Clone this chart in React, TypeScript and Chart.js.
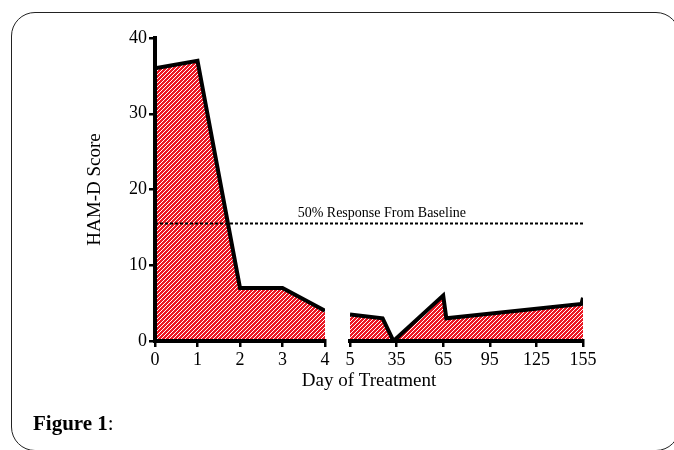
import React, { useEffect, useRef } from "react";
import { Chart, registerables } from "chart.js";

Chart.register(...registerables);

// ---- data ----
const EARLY_DAYS = [0, 1, 2, 3, 4];
const EARLY_SCORES = [36, 37, 7, 7, 4];
const LATE_DAYS = [5, 26, 33, 65, 67, 154, 155];
const LATE_SCORES = [3.5, 3.0, 0, 6, 3, 4.9, 5.7];
const EARLY_TICKS = [0, 1, 2, 3, 4];
const LATE_TICKS = [5, 35, 65, 95, 125, 155];
const Y_TICKS = [0, 10, 20, 30, 40];
const RESPONSE_LEVEL = 15.5;
const RESPONSE_LABEL = "50% Response From Baseline";
const RESPONSE_LABEL_AT = 0.53; // fraction along the whole day axis
const X_TITLE = "Day of Treatment";
const Y_TITLE = "HAM-D Score";
const CAPTION = "Figure 1";

const SERIF = "'Liberation Serif', 'Times New Roman', serif";
const FILL_RED = "rgb(236, 24, 36)";

function makeHatch(ctx: CanvasRenderingContext2D) {
  const t = document.createElement("canvas");
  t.width = 4;
  t.height = 4;
  const c = t.getContext("2d")!;
  c.fillStyle = FILL_RED;
  c.fillRect(0, 0, 4, 4);
  c.strokeStyle = "#ffffff";
  c.lineWidth = 1;
  c.beginPath();
  c.moveTo(0, 4);
  c.lineTo(4, 0);
  c.moveTo(-1, 1);
  c.lineTo(1, -1);
  c.moveTo(3, 5);
  c.lineTo(5, 3);
  c.stroke();
  return ctx.createPattern(t, "repeat")!;
}

const refLabelPlugin = {
  id: "refLabel",
  afterDatasetsDraw(chart: any) {
    const { ctx, scales } = chart;
    const x = scales.xfull.getPixelForValue(RESPONSE_LABEL_AT);
    const y = scales.y.getPixelForValue(RESPONSE_LEVEL) - 10;
    ctx.save();
    ctx.font = `14px ${SERIF}`;
    ctx.fillStyle = "#000";
    ctx.textAlign = "center";
    ctx.textBaseline = "middle";
    ctx.fillText(RESPONSE_LABEL, x, y);
    ctx.restore();
  },
};

const tickFont = { family: SERIF, size: 18 };
const titleFont = { family: SERIF, size: 19 };
const axisBorder = { display: true, color: "#000", width: 4, z: 1 };
const tickGrid = {
  display: true,
  drawOnChartArea: false,
  drawTicks: true,
  tickLength: 6,
  color: "#000",
  lineWidth: 2.5,
  tickColor: "#000",
  tickWidth: 2.5,
};

export default function App() {
  const ref = useRef<HTMLCanvasElement>(null);

  useEffect(() => {
    const canvas = ref.current!;
    const hatch = makeHatch(canvas.getContext("2d")!);
    const chart = new Chart(canvas, {
      type: "line",
      data: {
        datasets: [
          {
            data: EARLY_DAYS.map((d, i) => ({ x: d, y: EARLY_SCORES[i] })),
            xAxisID: "x1",
            yAxisID: "y",
            borderColor: "#000",
            borderWidth: 4,
            backgroundColor: hatch,
            fill: "origin",
            pointRadius: 0,
            tension: 0,
            borderJoinStyle: "miter",
            order: 1,
          },
          {
            data: LATE_DAYS.map((d, i) => ({ x: d, y: LATE_SCORES[i] })),
            xAxisID: "x2",
            yAxisID: "y",
            borderColor: "#000",
            borderWidth: 4,
            backgroundColor: hatch,
            fill: "origin",
            pointRadius: 0,
            tension: 0,
            borderJoinStyle: "miter",
            order: 1,
          },
          {
            data: [
              { x: 0, y: RESPONSE_LEVEL },
              { x: 1, y: RESPONSE_LEVEL },
            ],
            xAxisID: "xfull",
            yAxisID: "y",
            borderColor: "#000",
            borderWidth: 2,
            borderDash: [3, 2],
            fill: false,
            pointRadius: 0,
            order: -1,
          },
        ],
      } as any,
      options: {
        responsive: false,
        animation: false,
        layout: { padding: { left: 84, right: 91, top: 38, bottom: 58 } },
        plugins: {
          legend: { display: false },
          tooltip: { enabled: false },
          title: { display: false },
        },
        scales: {
          x1: {
            type: "linear",
            position: "bottom",
            stack: "days",
            stackWeight: 170,
            min: 0,
            max: 4,
            afterBuildTicks: (s: any) => {
              s.ticks = EARLY_TICKS.map((v) => ({ value: v }));
            },
            afterFit: (s: any) => {
              s.height = 30;
            },
            border: axisBorder,
            grid: tickGrid,
            ticks: { color: "#000", font: tickFont, padding: 2, maxRotation: 0, autoSkip: false },
          },
          xgap: {
            type: "linear",
            position: "bottom",
            stack: "days",
            stackWeight: 25,
            border: { display: false },
            grid: { display: false },
            ticks: { display: false },
            afterFit: (s: any) => {
              s.height = 30;
            },
          },
          x2: {
            type: "linear",
            position: "bottom",
            stack: "days",
            stackWeight: 233,
            min: 5,
            max: 155,
            afterBuildTicks: (s: any) => {
              s.ticks = LATE_TICKS.map((v) => ({ value: v }));
            },
            afterFit: (s: any) => {
              s.height = 30;
            },
            border: axisBorder,
            grid: tickGrid,
            ticks: { color: "#000", font: tickFont, padding: 2, maxRotation: 0, autoSkip: false },
          },
          xfull: {
            type: "linear",
            position: "bottom",
            weight: 1,
            min: 0,
            max: 1,
            border: { display: false },
            grid: { display: false },
            ticks: { display: false },
            title: { display: true, text: X_TITLE, color: "#000", font: titleFont, padding: 0 },
            afterFit: (s: any) => {
              s.height = 21;
            },
          },
          y: {
            type: "linear",
            position: "left",
            min: 0,
            max: 40,
            afterBuildTicks: (s: any) => {
              s.ticks = Y_TICKS.map((v) => ({ value: v }));
            },
            afterFit: (s: any) => {
              s.width = 71;
            },
            border: axisBorder,
            grid: tickGrid,
            ticks: { color: "#000", font: tickFont, padding: 2 },
            title: { display: true, text: Y_TITLE, color: "#000", font: titleFont, padding: 0 },
          },
        },
      } as any,
      plugins: [refLabelPlugin],
    });
    return () => chart.destroy();
  }, []);

  return (
    <div
      style={{
        position: "absolute",
        left: 0,
        top: 0,
        width: 674,
        height: 450,
        overflow: "hidden",
        background: "#fff",
      }}
    >
      <div
        style={{
          position: "absolute",
          left: 11,
          top: 12,
          width: 669,
          height: 439,
          boxSizing: "border-box",
          border: "1.5px solid #222",
          borderRadius: 24,
        }}
      />
      <canvas
        ref={ref}
        width={674}
        height={450}
        style={{ position: "absolute", left: 0, top: 0 }}
      />
      <div
        style={{
          position: "absolute",
          left: 33,
          top: 413,
          fontFamily: SERIF,
          fontSize: 21,
          lineHeight: 1,
          color: "#000",
          whiteSpace: "nowrap",
        }}
      >
        <b>{CAPTION}</b>:
      </div>
    </div>
  );
}
